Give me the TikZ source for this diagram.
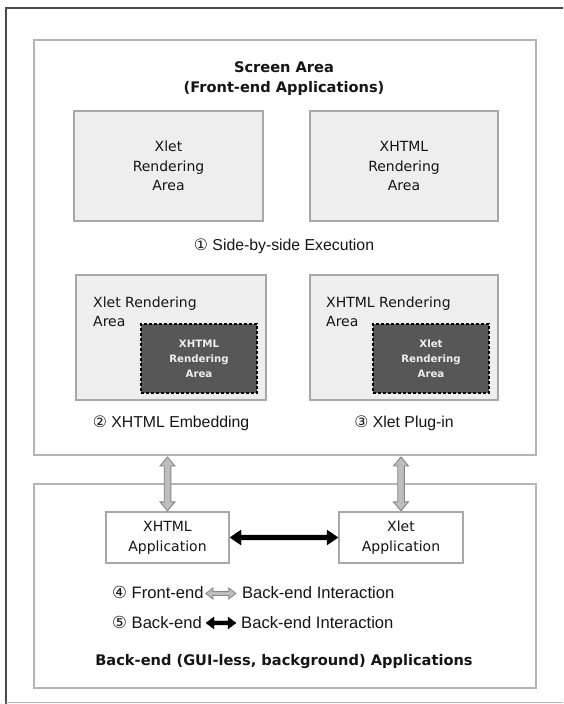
\documentclass[tikz,border=0pt]{standalone}
\usepackage{fontspec}
\setmainfont{DejaVu Sans}
\newfontfamily\capf{Liberation Sans}
\newfontfamily\symf{DejaVu Sans}
\usetikzlibrary{calc}
\definecolor{lightfill}{HTML}{EEEEEE}
\definecolor{boxline}{HTML}{A8A8A8}
\definecolor{panelline}{HTML}{B4B4B4}
\definecolor{darkfill}{HTML}{575757}
\definecolor{framedark}{HTML}{4A4A4A}
\definecolor{arrfill}{HTML}{BEBEBE}
\definecolor{arrline}{HTML}{858585}
\definecolor{txt}{HTML}{151515}
% vertical double arrow polygon: #1 top tip, #2 bottom tip, #3 half shaft, #4 half head, #5 head length, #6 style
\newcommand\vdarrow[6]{\path[#6] (#1) -- ($(#1)+(#4,#5)$) -- ($(#1)+(#3,#5)$) -- ($(#2)+(#3,-#5)$) -- ($(#2)+(#4,-#5)$) -- (#2) -- ($(#2)+(-#4,-#5)$) -- ($(#2)+(-#3,-#5)$) -- ($(#1)+(-#3,#5)$) -- ($(#1)+(-#4,#5)$) -- cycle;}
% horizontal double arrow polygon: #1 left tip, #2 right tip
\newcommand\hdarrow[6]{\path[#6] (#1) -- ($(#1)+(#5,-#4)$) -- ($(#1)+(#5,-#3)$) -- ($(#2)+(-#5,-#3)$) -- ($(#2)+(-#5,-#4)$) -- (#2) -- ($(#2)+(-#5,#4)$) -- ($(#2)+(-#5,#3)$) -- ($(#1)+(#5,#3)$) -- ($(#1)+(#5,#4)$) -- cycle;}
\tikzset{
  panel/.style={draw=panelline, line width=1.6pt, fill=white, inner sep=0pt, outer sep=0pt},
  area/.style={draw=boxline, line width=1.2pt, fill=lightfill, inner sep=0pt, outer sep=0pt, text=txt},
  boxtext/.style={font=\fontsize{14}{19.5}\selectfont, align=center, text=txt},
  darkarea/.style={draw=black, line width=2pt, dash pattern=on 3.2pt off 1.8pt, fill=darkfill, text=lightfill,
    font=\bfseries\fontsize{10.2}{15}\selectfont, align=center, inner sep=0pt, outer sep=0pt},
  app/.style={draw=boxline, line width=1.1pt, fill=white, font=\fontsize{14}{20}\selectfont, align=center,
    inner sep=0pt, outer sep=0pt, text=txt},
  titletext/.style={font=\bfseries\fontsize{14.6}{20}\selectfont, align=center, text=txt},
  captext/.style={font=\capf\fontsize{15.8}{18}\selectfont, inner sep=0pt, anchor=base, text=txt},
  legtext/.style={font=\capf\fontsize{16.6}{18}\selectfont, inner sep=0pt, anchor=base west, text=txt},
  grayarrow/.style={fill=arrfill, draw=arrline, line width=0.9pt, line join=miter},
  blackarrow/.style={fill=black, draw=black, line width=0.3pt, line join=miter},
}
\begin{document}
\begin{tikzpicture}[x=1pt, y=-1pt]
\useasboundingbox (0,0) rectangle (563,704);
\fill[white] (0,0) rectangle (563,704);
% outer frame
\draw[framedark, line width=2pt] (6,704) -- (6,7.5) -- (563,7.5);
\draw[panelline, line width=1pt] (6,702.5) -- (563,702.5);

% screen area
\node[panel, minimum width=502pt, minimum height=415pt] (screen) at (285,247.5) {};
\node[titletext] (title) at (284,78.5) {Screen Area\\(Front-end Applications)};

\node[area, boxtext, minimum width=189pt, minimum height=110pt] (xlet1) at (168.5,166) {Xlet\\Rendering\\Area};
\node[area, boxtext, minimum width=188pt, minimum height=110pt] (xhtml1) at (404,166) {XHTML\\Rendering\\Area};
\node[captext] (cap1) at (284,250.5) {{\symf ①} Side-by-side Execution};

\node[area, minimum width=190pt, minimum height=125pt] (xlet2) at (171,337.5) {};
\node[boxtext, align=left, anchor=north west, inner sep=0pt] (xlet2t) at (93,296.5) {Xlet Rendering\\Area};
\node[darkarea, minimum width=116pt, minimum height=69pt] (xhtml2) at (199,358.5) {XHTML\\Rendering\\Area};
\node[captext] (cap2) at (171,427.5) {{\symf ②} XHTML Embedding};

\node[area, minimum width=188pt, minimum height=125pt] (xhtml3) at (404,337.5) {};
\node[boxtext, align=left, anchor=north west, inner sep=0pt] (xhtml3t) at (326,296.5) {XHTML Rendering\\Area};
\node[darkarea, minimum width=116pt, minimum height=69pt] (xlet3) at (431,358.5) {Xlet\\Rendering\\Area};
\node[captext] (cap3) at (404,427.5) {{\symf ③} Xlet Plug-in};

% back-end area
\node[panel, minimum width=502pt, minimum height=204pt] (back) at (285,586) {};
\node[app, minimum width=123pt, minimum height=51pt] (xapp) at (167.5,537.5) {XHTML\\Application};
\node[app, minimum width=124pt, minimum height=51pt] (lapp) at (401,537.5) {Xlet\\Application};

% front-end <-> back-end arrows
\coordinate (g1t) at ($(xapp.north |- screen.south)+(0,2)$);
\coordinate (g1b) at ($(xapp.north)+(0,-1.2)$);
\coordinate (g2t) at ($(lapp.north |- screen.south)+(0,2)$);
\coordinate (g2b) at ($(lapp.north)+(0,-1.2)$);
\vdarrow{g1t}{g1b}{3.3}{7.5}{9}{grayarrow}
\vdarrow{g2t}{g2b}{3.3}{7.5}{9}{grayarrow}

% back-end <-> back-end arrow
\coordinate (b1l) at ($(xapp.east)+(1,0)$);
\coordinate (b1r) at ($(lapp.west)+(-1,0)$);
\hdarrow{b1l}{b1r}{2.4}{7.5}{11}{blackarrow}

% legend
\node[legtext] (l4a) at (112,598.5) {{\symf ④} Front-end};
\node[legtext] (l4b) at ($(l4a.base east)+(38,0)$) {Back-end Interaction};
\coordinate (l4s) at ($(l4a.east)+(2,1)$);
\coordinate (l4e) at ($(l4b.west |- l4s)+(-6,0)$);
\hdarrow{l4s}{l4e}{2}{5.5}{7}{grayarrow, line width=0.8pt}

\node[legtext] (l5a) at (112,628) {{\symf ⑤} Back-end};
\node[legtext] (l5b) at ($(l5a.base east)+(39,0)$) {Back-end Interaction};
\coordinate (l5s) at ($(l5a.east)+(4,1)$);
\coordinate (l5e) at ($(l5b.west |- l5s)+(-5,0)$);
\hdarrow{l5s}{l5e}{2}{6}{8}{blackarrow}

\node[titletext, anchor=base] (foot) at (284,665.3) {Back-end (GUI-less, background) Applications};
\end{tikzpicture}
\end{document}
